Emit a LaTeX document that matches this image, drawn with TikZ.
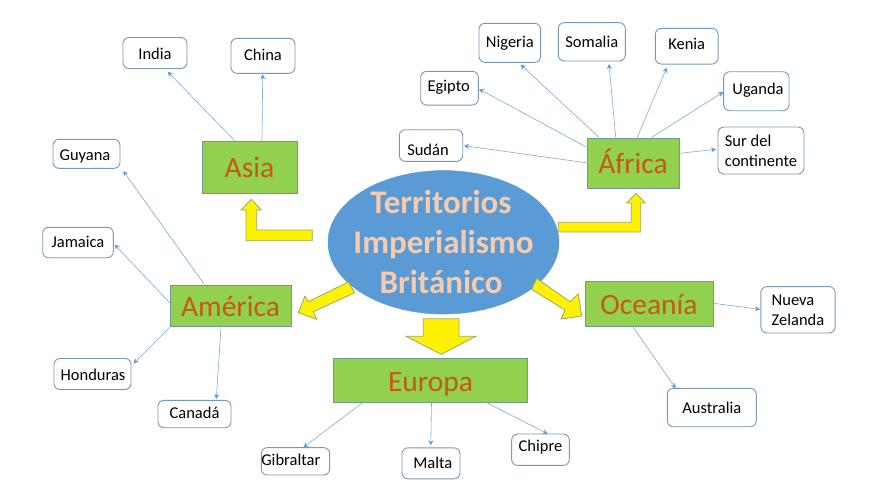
\documentclass[tikz,border=0pt]{standalone}
\usepackage{fontspec}
\setmainfont{Carlito}
\usetikzlibrary{shapes.geometric,arrows.meta}
\definecolor{leafline}{HTML}{7A98B5}
\definecolor{linkblue}{HTML}{7FAAD6}
\definecolor{headblue}{HTML}{5B9BD5}
\definecolor{greenfill}{HTML}{92D050}
\definecolor{greenline}{HTML}{6F9A8F}
\definecolor{rust}{HTML}{C55A11}
\definecolor{ellblue}{HTML}{5B9BD5}
\definecolor{peach}{HTML}{F8CBAD}
\definecolor{arrline}{HTML}{9AA86A}
\tikzset{
  leaf/.style={draw=leafline,line width=0.9pt,rounded corners=6pt,fill=white,inner sep=0pt,
    font=\fontsize{16.5}{20}\selectfont,text=black},
  oneline/.style={text height=#1pt,text depth=0pt},
  region/.style={draw=greenline,line width=0.9pt,fill=greenfill,inner sep=0pt,
    font=\fontsize{29.5}{32}\selectfont,text=rust,text height=21pt,text depth=0pt},
  hub/.style={ellipse,fill=ellblue,draw=ellblue,inner xsep=-30pt,inner ysep=-30pt,text=peach,align=center,
    font=\fontsize{33}{40}\selectfont\bfseries},
  link/.style={draw=linkblue,line width=0.6pt,-{Stealth[length=5pt,width=5pt,color=headblue]}},
  block/.style={fill=yellow,draw=arrline,line width=0.8pt,line join=miter}
}
\newcommand\Leaf[7]{\node[leaf,#1,minimum width=#5pt,minimum height=#6pt] (#2) at (#3,#4) {#7};}
\newcommand\Reg[6]{\node[region,minimum width=#4pt,minimum height=#5pt] (#1) at (#2,#3) {#6};}
\newcommand\Lk[6]{\draw[link] ([shift={(#2,#3)}]#1.center) -- ([shift={(#5,#6)}]#4.center);}
\begin{document}
\begin{tikzpicture}[x=1pt,y=-1pt]
\useasboundingbox[fill=white] (0,0) rectangle (869,485);
% hub
\node[hub,minimum width=231pt,minimum height=143.5pt] (hub) at (443.5,242.3) {Territorios\hspace*{5pt}\\Imperialismo\hspace*{5pt}\\Británico\hspace*{5pt}};
% regions
\Reg{asia}{249.5}{167}{95}{52}{Asia}
\Reg{africa}{633}{163}{92}{50}{África}
\Reg{america}{230.5}{305.5}{121}{41}{América}
\Reg{oceania}{649}{303.5}{128}{45}{Oceanía}
\Reg{europa}{430.5}{380.5}{193.5}{44}{Europa}
% leaves
\Leaf{oneline=12}{india}{155}{53}{64}{31}{India}
\Leaf{oneline=8.4}{china}{263}{55.8}{64}{35}{China}
\Leaf{oneline=9.8}{nigeria}{509.8}{42.8}{61.7}{39}{Nigeria}
\Leaf{oneline=11.8}{somalia}{591.8}{41.8}{67}{38.3}{Somalia}
\Leaf{oneline=5.6}{kenia}{686.7}{46.2}{62.7}{35.7}{Kenia}
\Leaf{oneline=5.6}{egipto}{449.5}{88.2}{57.6}{33.7}{Egipto\hspace*{1.6pt}}
\Leaf{oneline=5.6}{uganda}{756.3}{91.2}{65.3}{39}{\hspace*{3.4pt}Uganda}
\Leaf{oneline=19.6}{sudan}{431}{145.5}{63.4}{31.6}{Sudán\hspace*{6pt}}
\Leaf{align=left}{sur}{761}{150.5}{86}{47}{Sur del\\continente}
\Leaf{oneline=13.8}{guyana}{86.5}{153.8}{67}{29}{Guyana\hspace*{3pt}}
\Leaf{oneline=10.4}{jamaica}{78}{242.5}{70.6}{30.4}{Jamaica}
\Leaf{oneline=12.8}{honduras}{92.5}{374}{77}{31}{\hspace*{1pt}Honduras}
\Leaf{oneline=8.4}{canada}{194.5}{414}{73}{27.4}{Canadá}
\Leaf{oneline=7.4}{gibraltar}{295.5}{461.3}{67.5}{27.4}{Gibraltar\hspace*{9.4pt}}
\Leaf{oneline=9.4}{malta}{431}{463.3}{58}{31}{\hspace*{3.6pt}Malta}
\Leaf{oneline=2.6}{chipre}{540.5}{449.7}{57.7}{31.4}{Chipre}
\Leaf{align=left}{nueva}{798}{309.8}{74.3}{46.3}{Nueva\\Zelanda}
\Leaf{oneline=12.4}{australia}{711.8}{407.5}{89}{38.4}{Australia}
% connectors
\Lk{asia}{-14.5}{-26}{india}{12.7}{18.7}
\Lk{asia}{12.5}{-26}{china}{-0.3}{18.5}
\Lk{africa}{-47.3}{-0.3}{sudan}{33}{0.2}
\Lk{africa}{-47.3}{-16.3}{egipto}{29.5}{0.8}
\Lk{africa}{-34}{-25.7}{nigeria}{10.9}{21.9}
\Lk{africa}{-17.3}{-25.7}{somalia}{17.2}{22.2}
\Lk{africa}{4.3}{-25.7}{kenia}{-20}{21.5}
\Lk{africa}{18.7}{-25.7}{uganda}{-33}{0.8}
\Lk{africa}{47}{-9.7}{sur}{-45}{-1.2}
\Lk{oceania}{64.3}{-0.2}{nueva}{-38}{-0.5}
\Lk{oceania}{-16}{23.5}{australia}{-36.1}{-19.2}
\Lk{america}{-26.5}{-21.5}{guyana}{36.8}{17.2}
\Lk{america}{-60.5}{-2.5}{jamaica}{36.5}{2}
\Lk{america}{-58.5}{19.5}{honduras}{41}{-10.5}
\Lk{america}{-9.5}{21.5}{canada}{21.8}{-15}
\Lk{europa}{-67.9}{22.2}{gibraltar}{7.9}{-14}
\Lk{europa}{1}{22.2}{malta}{-0.2}{-18}
\Lk{europa}{56.1}{22.2}{chipre}{7.2}{-15.9}
% block arrows
\draw[block] (251.3,199.3) -- (261.3,210) -- (256.7,210) -- (256.7,230) -- (312.3,230) -- (312.3,240.7) -- (246,240.7) -- (246,210) -- (241,210) -- cycle;
\draw[block] (636,193.3) -- (645.3,203) -- (640.7,203) -- (640.7,232) -- (558.3,232) -- (558.3,222.3) -- (631.3,222.3) -- (631.3,203) -- (626.7,203) -- cycle;
\draw[block] (348.3,282) -- (354.7,292.7) -- (313.3,311.7) -- (316.7,319.3) -- (298.3,312.7) -- (305,296) -- (308.3,301.7) -- cycle;
\draw[block] (536.7,278.3) -- (531.7,289.3) -- (565,310) -- (561,319) -- (581.7,316) -- (578.3,294) -- (570,301.7) -- cycle;
\draw[block] (423.3,318.7) -- (459,318.7) -- (459,336.3) -- (476,336.3) -- (441.3,354.3) -- (406,336.3) -- (423.3,336.3) -- cycle;
\end{tikzpicture}
\end{document}
